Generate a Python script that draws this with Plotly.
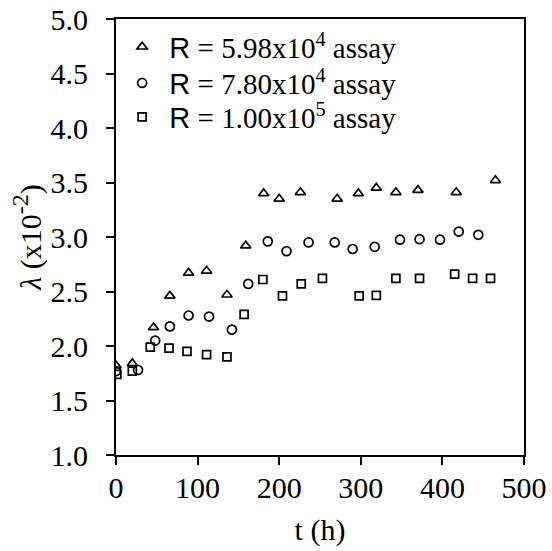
import plotly.graph_objects as go

# Data
t_a = [0, 20, 46, 66, 89, 111, 136, 159, 181, 200, 226, 271, 297, 319, 343, 370, 417, 465]
lam_a = [1.82, 1.84, 2.17, 2.46, 2.67, 2.69, 2.47, 2.92, 3.40, 3.35, 3.41, 3.35, 3.40, 3.45, 3.41, 3.43, 3.41, 3.52]

t_b = [0, 27, 48, 66, 89, 114, 142, 162, 186, 209, 236, 268, 290, 317, 348, 372, 397, 420, 444]
lam_b = [1.77, 1.78, 2.05, 2.18, 2.28, 2.27, 2.15, 2.57, 2.96, 2.87, 2.95, 2.95, 2.89, 2.91, 2.975, 2.98, 2.975, 3.05, 3.02]

t_c = [1, 20, 42, 65, 87, 111, 136, 157, 180, 204, 227, 253, 298, 319, 343, 372, 415, 437, 459]
lam_c = [1.74, 1.77, 1.99, 1.98, 1.95, 1.92, 1.90, 2.29, 2.61, 2.46, 2.57, 2.62, 2.46, 2.465, 2.62, 2.62, 2.66, 2.62, 2.62]

NB = "\u00a0"
names = [
    NB + '<span style="font-family:Liberation Sans">R</span> = 5.98x10<sup>4</sup> assay',
    NB + '<span style="font-family:Liberation Sans">R</span> = 7.80x10<sup>4</sup> assay',
    NB + '<span style="font-family:Liberation Sans">R</span> = 1.00x10<sup>5</sup> assay',
]
series = [(t_a, lam_a, "triangle-up-open", 9), (t_b, lam_b, "circle-open", 9), (t_c, lam_c, "square-open", 8)]
legend_ids = ["legend", "legend2", "legend3"]
legend_y = [0.936, 0.853, 0.775]

fig = go.Figure()
for (tx, ly, sym, sz), nm, lg in zip(series, names, legend_ids):
    fig.add_trace(go.Scatter(
        x=tx, y=ly, mode="markers", name=nm, legend=lg, showlegend=True,
        marker=dict(symbol=sym, size=sz, color="black", line=dict(color="black", width=1.7)),
    ))

FS = 30
axis_common = dict(
    showgrid=False, zeroline=False, showline=True, linecolor="black", linewidth=2,
    mirror=True, ticks="outside", ticklen=8, tickwidth=2, tickcolor="black",
    tickfont=dict(family="Liberation Serif", size=FS, color="black"),
    automargin=False,
)
fig.update_xaxes(range=[0, 500], dtick=100, ticklabelstandoff=-3,
                 title=dict(text="t (h)", font=dict(family="Liberation Serif", size=FS, color="black"), standoff=16),
                 **axis_common)
fig.update_yaxes(range=[1.0, 5.0], dtick=0.5, tickformat=".1f", ticklabelstandoff=12,
                 title=dict(text='\u00a0\u00a0<i>λ</i> (x10<sup><span style="font-size:24px">-2</span></sup>)',
                            font=dict(family="Liberation Serif", size=FS, color="black"), standoff=0),
                 **axis_common)

leg_common = dict(xanchor="left", yanchor="middle", bgcolor="rgba(0,0,0,0)",
                  font=dict(family="Liberation Serif", size=29, color="black"))
layout_legends = {}
for lg, ly in zip(legend_ids, legend_y):
    layout_legends[lg] = dict(x=0.015, y=ly, visible=True, **leg_common)

fig.update_layout(
    width=552, height=551,
    margin=dict(l=116, r=28, t=19, b=96),
    plot_bgcolor="white", paper_bgcolor="white",
    showlegend=True,
    font=dict(family="Liberation Serif", size=FS, color="black"),
    **layout_legends,
)
fig.write_html("out.html")
